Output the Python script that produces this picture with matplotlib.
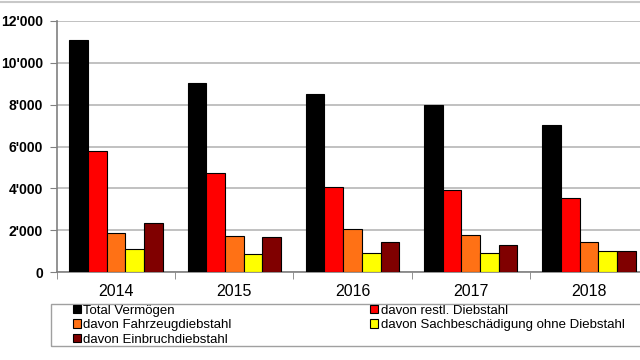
import numpy as np
import matplotlib.pyplot as plt
from matplotlib.ticker import FuncFormatter, FixedLocator
from matplotlib.patches import Rectangle
from matplotlib.lines import Line2D

plt.rcParams['font.family'] = ['Liberation Sans', 'DejaVu Sans']

jahre = ['2014', '2015', '2016', '2017', '2018']
total = [11100, 9050, 8500, 7980, 7030]
restl = [5800, 4730, 4060, 3920, 3540]
fahrzeug = [1870, 1720, 2050, 1770, 1440]
sachbesch = [1100, 870, 910, 910, 1010]
einbruch = [2350, 1680, 1440, 1300, 1010]

serien = [
    ('Total Vermögen', total, '#000000'),
    ('davon restl. Diebstahl', restl, '#ff0000'),
    ('davon Fahrzeugdiebstahl', fahrzeug, '#ff7115'),
    ('davon Sachbeschädigung ohne Diebstahl', sachbesch, '#ffff00'),
    ('davon Einbruchdiebstahl', einbruch, '#800000'),
]

fig = plt.figure(figsize=(6.4, 3.6), dpi=100)
ax = fig.add_axes([57/640, 1 - 272/360, 591/640, 251/360])

x = np.arange(len(jahre))
w = 0.158
handles = {}
for i, (name, vals, col) in enumerate(serien):
    b = ax.bar(x + (i - 2) * w, vals, w, color=col, edgecolor='black',
               linewidth=0.8, zorder=3, label=name)
    handles[name] = b

ax.set_xlim(-0.5, 4.5)
ax.set_ylim(0, 12000)
ax.set_yticks(range(0, 12001, 2000))
ax.yaxis.set_major_formatter(FuncFormatter(lambda v, p: f'{int(v):,}'.replace(',', "'")))
ax.grid(axis='y', color='#b0b0b0', linewidth=1.1, zorder=0)

ax.set_xticks(x)
ax.set_xticklabels(jahre, fontsize=11.5)
ax.xaxis.set_minor_locator(FixedLocator([-0.5, 0.5, 1.5, 2.5, 3.5]))
ax.tick_params(axis='x', which='major', length=0, pad=9)
ax.tick_params(axis='x', which='minor', length=5, color='#808080')
ax.tick_params(axis='y', length=5, color='#808080', pad=5)
for t in ax.get_yticklabels():
    t.set_fontweight('bold')
    t.set_fontsize(10)

for s in ['top', 'right']:
    ax.spines[s].set_visible(False)
ax.spines['left'].set_color('#808080')
ax.spines['bottom'].set_color('#808080')
ax.spines['left'].set_linewidth(1.2)
ax.spines['bottom'].set_linewidth(1.2)

# linie ganz oben
fig.add_artist(Line2D([0, 1], [1 - 1.5/360, 1 - 1.5/360], color='#c8c8c8', linewidth=1.5))

# legendenrahmen
fig.add_artist(Rectangle((51/640, 1 - 346/360), 600/640, 42/360, fill=False,
                         edgecolor='#a0a0a0', linewidth=1.0, transform=fig.transFigure))

order = ['Total Vermögen', 'davon Fahrzeugdiebstahl', 'davon Einbruchdiebstahl',
         'davon restl. Diebstahl', 'davon Sachbeschädigung ohne Diebstahl']
leg = fig.legend([handles[n] for n in order], order, ncol=2, frameon=False,
                 loc='upper left', bbox_to_anchor=(70/640, 1 - 302/360),
                 fontsize=9.5, handlelength=0.6, handleheight=0.6, handletextpad=0.2,
                 columnspacing=10.5, labelspacing=0.2, borderpad=0.2, borderaxespad=0)

fig.savefig('out.png', dpi=100)
